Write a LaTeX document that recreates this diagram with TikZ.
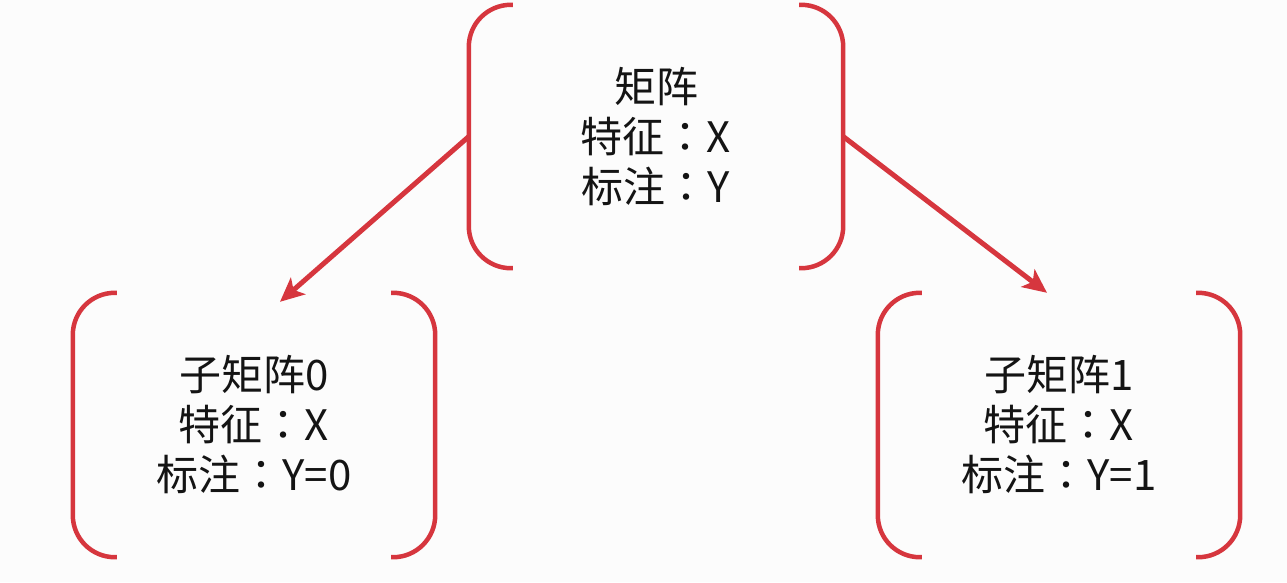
\documentclass[tikz,border=0pt]{standalone}
\usepackage{fontspec}
\setmainfont{Noto Sans CJK SC}
\newfontfamily\jpfont{Noto Sans CJK JP}
\newcommand{\fwcolon}{{\jpfont ：}}
\usetikzlibrary{arrows.meta}
\definecolor{brred}{HTML}{D6363E}
\definecolor{bgc}{HTML}{FCFCFC}
\tikzset{
  box/.style={draw=none, inner sep=0pt, align=center, text=black!92,
    font=\fontsize{42}{50}\selectfont},
  bracket/.style={draw=brred, line width=4.5pt, rounded corners=42pt},
  conn/.style={draw=brred, line width=5pt,
    -{Stealth[length=24pt, width=22pt, inset=6pt]}}
}
\begin{document}
\begin{tikzpicture}[x=1pt,y=-1pt]
\useasboundingbox[fill=bgc] (0,0) rectangle (1287,582);
\node[box, minimum width=374pt, minimum height=263pt] (top) at (656,136.5) {矩阵\\特征\fwcolon X\\标注\fwcolon Y};
\node[box, minimum width=362pt, minimum height=264pt] (bl) at (254,425) {子矩阵0\\特征\fwcolon X\\标注\fwcolon Y=0};
\node[box, minimum width=362pt, minimum height=264pt] (br) at (1059,425) {子矩阵1\\特征\fwcolon X\\标注\fwcolon Y=1};
\foreach \n in {top,bl,br}{
  \draw[bracket] ([xshift=44pt]\n.north west) -- (\n.north west) -- (\n.south west) -- ([xshift=44pt]\n.south west);
  \draw[bracket] ([xshift=-44pt]\n.north east) -- (\n.north east) -- (\n.south east) -- ([xshift=-44pt]\n.south east);
}
\coordinate (tl) at ([xshift=26pt,yshift=-9pt]bl.north);
\coordinate (tr) at ([xshift=-12pt]br.north);
\draw[conn] (top.west) -- (tl);
\draw[conn] (top.east) -- (tr);
\end{tikzpicture}
\end{document}
